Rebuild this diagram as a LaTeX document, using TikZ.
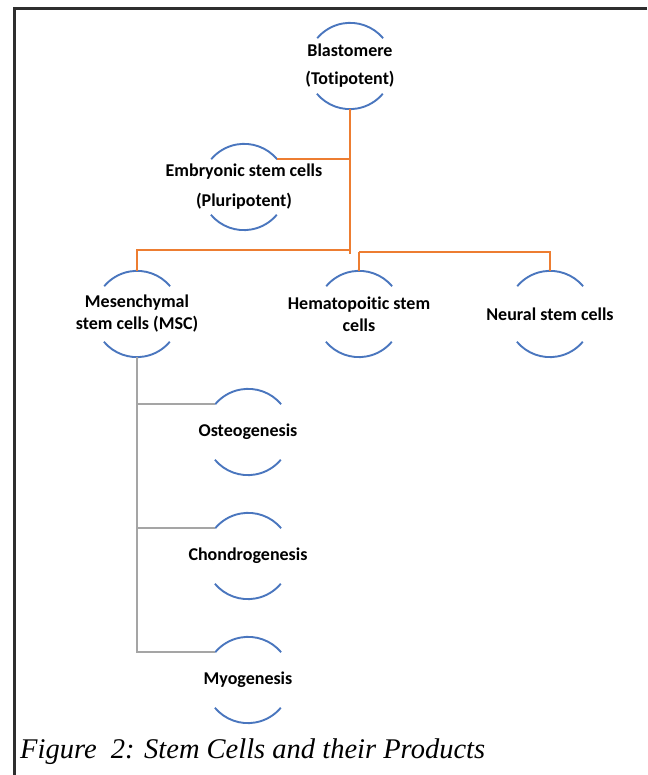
\documentclass[tikz,border=0pt]{standalone}
\usepackage{fontspec}
\setmainfont{Carlito}[Ligatures=NoCommon]
\newfontfamily\capfont{Liberation Serif}
\definecolor{cellblue}{HTML}{4A76BE}
\definecolor{linkorange}{HTML}{ED7D31}
\definecolor{linkgray}{HTML}{A5A5A5}
\definecolor{framegray}{HTML}{2E2E2E}
\begin{document}
\begin{tikzpicture}[x=1pt,y=1pt,
    cell/.style={circle,minimum size=86pt,inner sep=0pt},
    celltext/.style={font=\fontsize{18}{22}\selectfont\bfseries,align=center,inner sep=0pt},
    cellarc/.style={cellblue,line width=1.9pt},
    orangelink/.style={linkorange,line width=2.2pt},
    graylink/.style={linkgray,line width=2.2pt}]
    \useasboundingbox (0,0) rectangle (647,775);
    \draw[framegray,line width=3pt] (647,766) -- (14.5,766) -- (14.5,0);

    \node[cell] (blast) at (350,709) {};
    \node[celltext] (blast-t) at (blast) {Blastomere\\[6pt](Totipotent)};
    \node[cell] (esc) at (244,588) {};
    \node[celltext] (esc-t) at (esc) {Embryonic stem cells\\[8pt](Pluripotent)};

    \node[cell] (msc) at (137,461) {};
    \node[celltext] (msc-t) at (msc) {Mesenchymal\\stem cells (MSC)};
    \node[cell] (hsc) at (359,461) {};
    \node[celltext] (hsc-t) at (hsc) {Hematopoitic stem\\cells};
    \node[cell] (nsc) at (550,461) {};
    \node[celltext] (nsc-t) at (nsc) {Neural stem cells};

    \node[cell] (osteo) at (248,343) {};
    \node[celltext] (osteo-t) at (osteo) {Osteogenesis};
    \node[cell] (chondro) at (248,219) {};
    \node[celltext] (chondro-t) at (chondro) {Chondrogenesis};
    \node[cell] (myo) at (248,95) {};
    \node[celltext] (myo-t) at (myo) {Myogenesis};

    \node[anchor=west,inner sep=0pt,font=\capfont\itshape\fontsize{28.5}{32}\selectfont] (caption) at (20,23) {Figure\ \ 2: Stem Cells and their Products};

    \foreach \n in {blast,esc,msc,hsc,nsc,osteo,chondro,myo} {
        \draw[cellarc] (\n.40) arc[start angle=40,end angle=140,radius=43pt];
        \draw[cellarc] (\n.220) arc[start angle=220,end angle=320,radius=43pt];
    }

    \coordinate (trunkend) at (350,521);
    \coordinate (forkL) at (350,525);
    \coordinate (forkR) at (359,523);
    \draw[orangelink] (blast.south) -- (trunkend);
    \draw[orangelink] (esc.40) -- (esc.40 -| trunkend);
    \draw[orangelink] (forkL) -| (msc.north);
    \draw[orangelink] (forkR) -- (hsc.north);
    \draw[orangelink] (forkR) -| (nsc.north);

    \draw[graylink] (msc.south) -- (msc.south |- myo.140) -- (myo.140);
    \draw[graylink] (msc.south |- osteo.140) -- (osteo.140);
    \draw[graylink] (msc.south |- chondro.140) -- (chondro.140);
\end{tikzpicture}
\end{document}
